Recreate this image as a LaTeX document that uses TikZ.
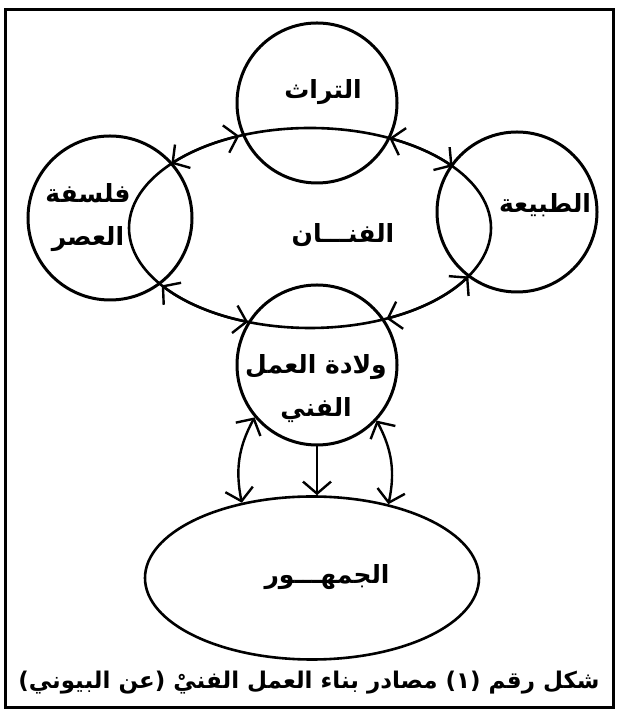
\documentclass[tikz,border=0pt]{standalone}
\usepackage{fontspec}
\newfontfamily\arabicfont[Script=Arabic]{DejaVu Sans}
\TeXXeTstate=1
\usetikzlibrary{arrows.meta,shapes.geometric}
\newcommand{\artext}[1]{{\arabicfont\bfseries\beginR #1\endR}}

\begin{document}
\begin{tikzpicture}[x=1pt, y=1pt,
  ring/.style={draw, circle, line width=3pt, minimum size=160pt, inner sep=0pt},
  oval/.style={draw, ellipse, line width=2.6pt, inner sep=0pt},
  word/.style={align=center, inner sep=1pt, font=\fontsize{25}{43}\selectfont},
  arrow/.style={-{Straight Barb[length=12pt,width=28pt]}, line width=2.4pt},
  biarrow/.style={{Straight Barb[length=12pt,width=28pt]}-{Straight Barb[length=12pt,width=28pt]}, line width=2.4pt}
]
\useasboundingbox (0,0) rectangle (616,714);
\draw[line width=3pt] (5,6) rectangle (613,704);
\node[oval, minimum width=362pt, minimum height=200pt] (fanan) at (310,486) {};
\node[ring] (turath) at (317,611) {};
\node[ring, minimum size=164pt] (falsafa) at (110,496) {};
\node[ring] (tabia) at (517,502) {};
\node[ring] (wilada) at (317,349) {};
\node[oval, minimum width=334pt, minimum height=163pt] (jumhur) at (312,136) {};
\node[word] (turathtext) at (323,622) {\artext{التراث}};
\node[word] (falsafatext) at (88,496) {\artext{فلسفة}\\\artext{العصر}};
\node[word] (tabiatext) at (545,509) {\artext{الطبيعة}};
\node[word] (fanantext) at (343,479) {\artext{الفنـــان}};
\node[word] (wiladatext) at (316,325) {\artext{ولادة العمل}\\\artext{الفني}};
\node[word] (jumhurtext) at (327,137) {\artext{الجمهـــور}};
\node[word, font=\fontsize{23}{30}\selectfont] (caption) at (309,31) {\artext{شكل رقم (١) مصادر بناء العمل الفنيْ (عن البيوني)}};
\draw[biarrow] ([shift={(140:181 and 100)}]fanan.center) arc[start angle=140, end angle=113, x radius=181, y radius=100];
\draw[biarrow] ([shift={(64:181 and 100)}]fanan.center) arc[start angle=64, end angle=38, x radius=181, y radius=100];
\draw[biarrow] ([shift={(-29:181 and 100)}]fanan.center) arc[start angle=-29, end angle=-65, x radius=181, y radius=100];
\draw[biarrow] ([shift={(-110:181 and 100)}]fanan.center) arc[start angle=-110, end angle=-145, x radius=181, y radius=100];
\draw[biarrow] (wilada.220) to[bend right=20] (jumhur.133);
\draw[arrow] (wilada.south) -- (wilada.south |- jumhur.north);
\draw[biarrow] (wilada.-43) to[bend left=20] (jumhur.44);
\end{tikzpicture}
\end{document}
